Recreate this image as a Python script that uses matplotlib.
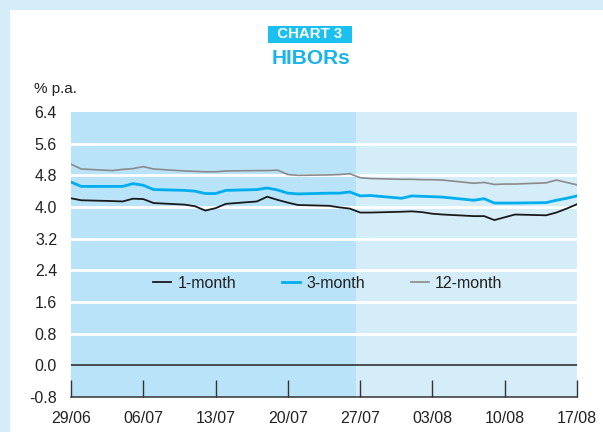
import matplotlib
matplotlib.use("Agg")
import matplotlib.pyplot as plt
import matplotlib.patches as mpatches
import numpy as np

plt.rcParams['font.family'] = ['Liberation Sans', 'DejaVu Sans']

# Day offsets from 29/06 (business days)
days = [0, 1, 4, 5, 6, 7, 8, 11, 12, 13, 14, 15, 18, 19, 20, 21, 22, 25, 26, 27,
        28, 29, 32, 33, 34, 35, 36, 39, 40, 41, 42, 43, 46, 47, 48, 49]

one_month = [4.22, 4.17, 4.15, 4.14, 4.21, 4.20, 4.10, 4.06, 4.02, 3.91, 3.97, 4.08,
             4.14, 4.26, 4.18, 4.11, 4.05, 4.03, 3.99, 3.96, 3.86, 3.86, 3.88, 3.89,
             3.87, 3.83, 3.81, 3.77, 3.77, 3.67, 3.74, 3.81, 3.79, 3.86, 3.96, 4.07]

three_month = [4.63, 4.52, 4.52, 4.52, 4.59, 4.55, 4.44, 4.42, 4.40, 4.34, 4.34, 4.42,
               4.44, 4.48, 4.43, 4.35, 4.33, 4.35, 4.35, 4.38, 4.28, 4.29, 4.22, 4.28,
               4.27, 4.26, 4.25, 4.17, 4.21, 4.10, 4.10, 4.10, 4.11, 4.17, 4.22, 4.28]

twelve_month = [5.08, 4.96, 4.92, 4.95, 4.97, 5.02, 4.96, 4.91, 4.90, 4.89, 4.89, 4.91,
                4.92, 4.92, 4.93, 4.82, 4.80, 4.81, 4.82, 4.84, 4.74, 4.72, 4.70, 4.70,
                4.69, 4.69, 4.68, 4.60, 4.62, 4.57, 4.58, 4.58, 4.61, 4.68, 4.62, 4.56]

tick_days = [0, 7, 14, 21, 28, 35, 42, 49]
tick_labels = ["29/06", "06/07", "13/07", "20/07", "27/07", "03/08", "10/08", "17/08"]
y_ticks = [-0.8, 0.0, 0.8, 1.6, 2.4, 3.2, 4.0, 4.8, 5.6, 6.4]
shade_split = 27.6

fig = plt.figure(figsize=(6.03, 4.32), dpi=100)
fig.patch.set_facecolor("#d5ecf9")
W, H = 603, 432
fig.add_artist(mpatches.Rectangle((10 / W, 0), 1 - 10 / W, 1 - 10 / H,
                                  transform=fig.transFigure, facecolor="white",
                                  edgecolor="none", zorder=0))

ax = fig.add_axes([71 / W, 1 - 397 / H, (577 - 71) / W, (397 - 112) / H])
ax.set_facecolor("none")
ax.set_xlim(0, 49)
ax.set_ylim(-0.8, 6.4)

ax.axvspan(0, shade_split, color="#b9e3f8", zorder=0, lw=0)
ax.axvspan(shade_split, 49, color="#d5edf9", zorder=0, lw=0)

for y in y_ticks:
    if y in (-0.8, 0.0, 6.4):
        continue
    ax.axhline(y, color="white", lw=2, zorder=1)
ax.axhline(0.0, color="#222222", lw=1.1, zorder=2)

ax.plot(days, one_month, color="#1a1a1a", lw=1.3, label="1-month", zorder=4)
ax.plot(days, three_month, color="#00aeef", lw=2.0, label="3-month", zorder=4)
ax.plot(days, twelve_month, color="#8a8a8a", lw=1.2, label="12-month", zorder=3)

for s in ["top", "right", "left"]:
    ax.spines[s].set_visible(False)
ax.spines["bottom"].set_color("#333333")
ax.spines["bottom"].set_linewidth(1.1)

ax.set_xticks(tick_days)
ax.set_xticklabels(tick_labels, fontsize=11.5, color="#222222")
ax.tick_params(axis="x", direction="in", length=12, width=1, color="#333333", pad=10)
ax.set_yticks(y_ticks)
ax.set_yticklabels([f"{v:.1f}" for v in y_ticks], fontsize=11.5, color="#222222")
ax.tick_params(axis="y", length=0, pad=10)

leg = ax.legend(loc="center", bbox_to_anchor=(328 / W * W / (577 - 71) - 71 / (577 - 71), (397 - 283) / (397 - 112)),
                ncol=3, frameon=False,
                fontsize=11.5, handlelength=1.1, handletextpad=0.4, columnspacing=2.9,
                borderpad=0, borderaxespad=0)
for t in leg.get_texts():
    t.set_color("#222222")

fig.text(310 / W, 1 - 34.5 / H, "  CHART 3  ", ha="center", va="center", fontsize=10.8,
         fontweight="bold", color="white",
         bbox=dict(boxstyle="square,pad=0.12", facecolor="#1bbff0", edgecolor="none"))
fig.text(311 / W, 1 - 58.5 / H, "HIBORs", ha="center", va="center", fontsize=15,
         fontweight="bold", color="#18b4ea")
fig.text(34 / W, 1 - 89 / H, "% p.a.", ha="left", va="center", fontsize=11,
         color="#222222")

fig.savefig("out.png", dpi=100, facecolor=fig.get_facecolor())
